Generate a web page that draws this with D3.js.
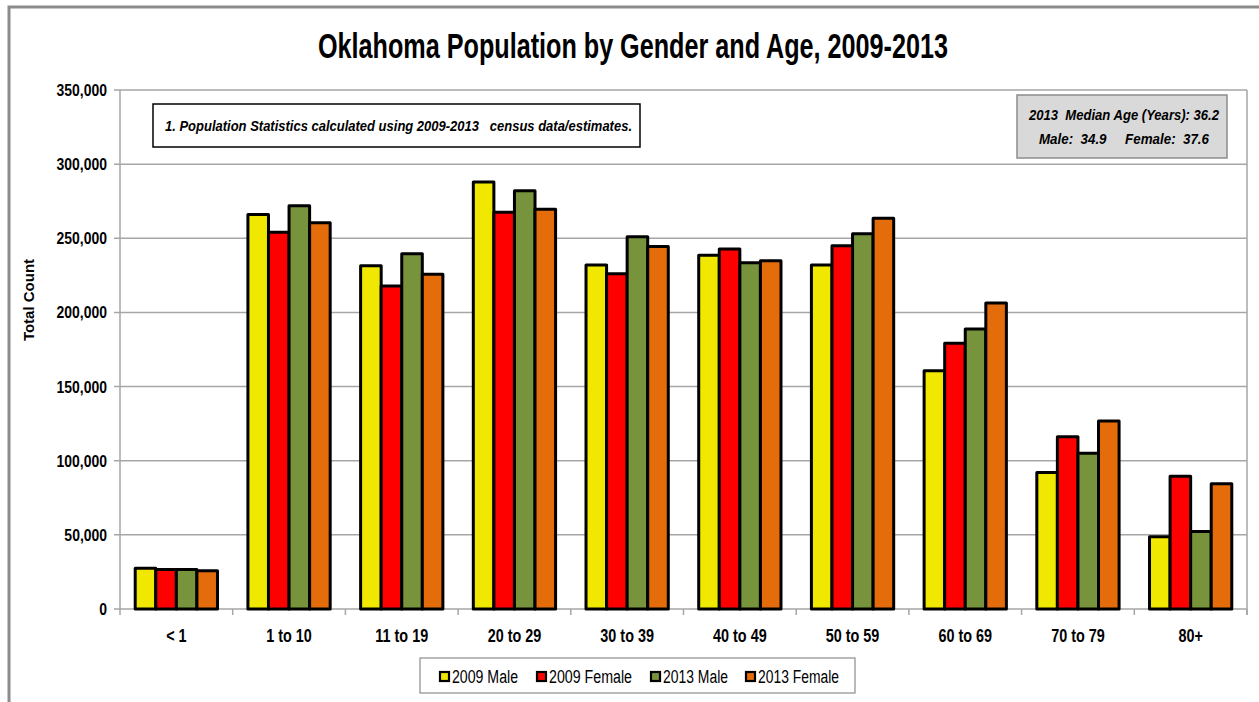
<!DOCTYPE html>
<html><head><meta charset="utf-8">
<script src="https://cdn.jsdelivr.net/npm/d3@7"></script>
<style>
body{margin:0;background:#fff;}
text{font-family:"Liberation Sans",Arial,sans-serif;}
</style></head>
<body><svg id="c" width="1259" height="702"></svg>
<script>
const categories = ["< 1","1 to 10","11 to 19","20 to 29","30 to 39","40 to 49","50 to 59","60 to 69","70 to 79","80+"];
const seriesNames = ["2009 Male","2009 Female","2013 Male","2013 Female"];
const male2009   = [27500,266000,231500,288000,232000,238500,232000,160700,92000,48800];
const female2009 = [26600,254000,217800,267500,226000,242800,245000,179200,116200,89500];
const male2013   = [26600,272000,239500,282000,251000,233500,253000,188800,105000,52300];
const female2013 = [25800,260500,225700,269500,244500,234800,263500,206300,126800,84500];
const yTicks = [0,50000,100000,150000,200000,250000,300000,350000];
const colors = ["#f0e800","#ff0000","#77933c","#e46c0a"];

const series = [male2009,female2009,male2013,female2013];
const svg = d3.select("#c");
const L=120,R=1247,T=90,B=609;

function condense(sel,k){
  sel.each(function(){
    const w=this.getComputedTextLength();
    d3.select(this).attr("textLength",w*k).attr("lengthAdjust","spacingAndGlyphs");
  });
}

// outer frame
svg.append("rect").attr("x",9).attr("y",7).attr("width",1270).attr("height",720)
  .attr("fill","none").attr("stroke","#8c8c8c").attr("stroke-width",3);

const x = d3.scaleBand().domain(categories).range([L,R]).paddingInner(0.27).paddingOuter(0.135);
const xs = d3.scaleBand().domain(seriesNames).range([0,x.bandwidth()]);
const y = d3.scaleLinear().domain([0,350000]).range([B,T]);

// gridlines
svg.append("g").selectAll("line").data(yTicks).join("line")
  .attr("x1",L-6).attr("x2",R).attr("y1",d=>y(d)).attr("y2",d=>y(d))
  .attr("stroke","#a6a6a6").attr("stroke-width",1.5);
svg.append("line").attr("x1",L).attr("x2",L).attr("y1",T).attr("y2",B).attr("stroke","#a6a6a6").attr("stroke-width",1.5);
svg.append("line").attr("x1",R).attr("x2",R).attr("y1",T).attr("y2",B+6).attr("stroke","#a6a6a6").attr("stroke-width",1.5);

// y axis labels
const yAxis = d3.axisLeft(y).tickValues(yTicks).tickSize(0).tickPadding(13).tickFormat(d3.format(","));
const ya = svg.append("g").attr("transform",`translate(${L},0)`).call(yAxis);
ya.select(".domain").remove();
ya.selectAll("text").attr("font-size",17).attr("font-weight","bold").attr("fill","#000").attr("font-family",'"Liberation Sans",Arial,sans-serif');
condense(ya.selectAll("text"),0.82);

// x axis
const boundaries = d3.range(categories.length+1).map(i=>L+(R-L)*i/categories.length);
svg.append("g").selectAll("line").data(boundaries).join("line")
  .attr("x1",d=>d).attr("x2",d=>d).attr("y1",B).attr("y2",B+6).attr("stroke","#a6a6a6").attr("stroke-width",1.5);
const xa = svg.append("g").attr("transform",`translate(0,${B})`).call(d3.axisBottom(x).tickSize(0).tickPadding(20));
xa.select(".domain").remove();
xa.selectAll("text").attr("font-size",18).attr("font-weight","bold").attr("fill","#000").attr("font-family",'"Liberation Sans",Arial,sans-serif');
condense(xa.selectAll("text"),0.8);

// bars
const g = svg.append("g");
categories.forEach((c,ci)=>{
  series.forEach((s,si)=>{
    g.append("rect")
      .attr("x",x(c)+xs(seriesNames[si]))
      .attr("y",y(s[ci]))
      .attr("width",xs.bandwidth())
      .attr("height",y(0)-y(s[ci]))
      .attr("fill",colors[si]).attr("stroke","#000").attr("stroke-width",3).attr("stroke-linejoin","round");
  });
});

// y axis title
svg.append("text").attr("transform","translate(34,300) rotate(-90)").attr("text-anchor","middle")
  .attr("font-weight","bold").attr("font-size",15).text("Total Count");

// title
svg.append("text").attr("x",633).attr("y",58).attr("text-anchor","middle")
  .attr("font-size",35).attr("font-weight","bold").attr("textLength",630).attr("lengthAdjust","spacingAndGlyphs")
  .text("Oklahoma Population by Gender and Age, 2009-2013");

// note box
svg.append("rect").attr("x",153).attr("y",104).attr("width",487).attr("height",43).attr("fill","#fff").attr("stroke","#000").attr("stroke-width",1.5);
svg.append("text").attr("x",165).attr("y",131).attr("font-family","Lato,'Open Sans',sans-serif").attr("font-style","italic").attr("font-weight","bold")
  .attr("font-size",14.5).attr("xml:space","preserve").attr("textLength",467).attr("lengthAdjust","spacingAndGlyphs")
  .text("1. Population Statistics calculated using 2009-2013   census data/estimates.");

// median box
svg.append("rect").attr("x",1017).attr("y",95).attr("width",210).attr("height",63).attr("fill","#d9d9d9").attr("stroke","#8c8c8c").attr("stroke-width",1.5);
svg.append("text").attr("x",1124).attr("y",120).attr("text-anchor","middle").attr("font-family","Lato,sans-serif").attr("font-style","italic").attr("font-weight","bold")
  .attr("font-size",14.5).attr("xml:space","preserve").attr("textLength",190).attr("lengthAdjust","spacingAndGlyphs").text("2013  Median Age (Years): 36.2");
svg.append("text").attr("x",1124).attr("y",144).attr("text-anchor","middle").attr("font-family","Lato,sans-serif").attr("font-style","italic").attr("font-weight","bold")
  .attr("font-size",14.5).attr("xml:space","preserve").attr("textLength",170).attr("lengthAdjust","spacingAndGlyphs").text("Male:  34.9     Female:  37.6");

// legend
svg.append("rect").attr("x",420).attr("y",658).attr("width",435).attr("height",35).attr("fill","#fff").attr("stroke","#8c8c8c").attr("stroke-width",1.2);
const legX = [439,536,650,745];
const legW = [66,83,65,81];
seriesNames.forEach((n,i)=>{
  svg.append("rect").attr("x",legX[i]+1).attr("y",672).attr("width",9).attr("height",9).attr("fill",colors[i]).attr("stroke","#000").attr("stroke-width",2.2);
  svg.append("text").attr("x",legX[i]+13).attr("y",683).attr("font-size",18).attr("fill","#000")
    .attr("textLength",legW[i]).attr("lengthAdjust","spacingAndGlyphs").text(n);
});
</script></body></html>
